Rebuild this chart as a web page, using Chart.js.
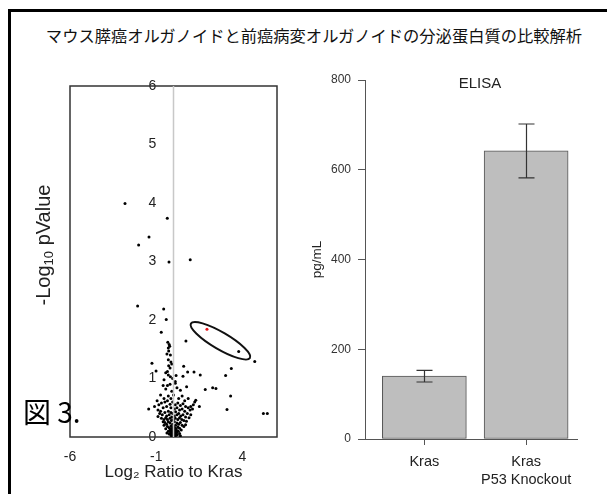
<!DOCTYPE html>
<html>
<head>
<meta charset="utf-8">
<script src="https://cdn.jsdelivr.net/npm/chart.js@4/dist/chart.umd.min.js"></script>
<style>
  html, body { margin: 0; padding: 0; overflow: hidden; }
  body { width: 607px; height: 494px; background: #fff; position: relative;
         font-family: "Liberation Sans", Arial, sans-serif; color: #222; }
  #frameTop { position: absolute; left: 8px; top: 9px; width: 599px; height: 3px; background: #000; }
  #frameLeft { position: absolute; left: 8px; top: 9px; width: 3px; height: 485px; background: #000; }
  #title { position: absolute; left: 314px; top: 23px; transform: translateX(-50%);
           font: 16.3px "Noto Sans CJK JP", sans-serif; color: #111; white-space: nowrap; }
  canvas { position: absolute; }
  #volcano { left: 20px; top: 60px; }
  #elisa { left: 290px; top: 60px; }
  #ylab { position: absolute; left: 44px; top: 245px; transform: translate(-50%, -50%) rotate(-90deg);
          font-size: 20px; white-space: nowrap; color: #222; }
  #ylab sub { font-size: 13px; vertical-align: -3px; }
  #elisaTitle { position: absolute; left: 480px; top: 82px; transform: translate(-50%, -50%);
                font-size: 15px; color: #222; }
  #fig { position: absolute; left: 23px; top: 411px; transform: translateY(-50%);
         font: 28px "Noto Sans CJK JP", sans-serif; color: #000; white-space: nowrap; z-index: 2; }
</style>
</head>
<body>
<div id="frameTop"></div>
<div id="frameLeft"></div>
<div id="title">マウス膵癌オルガノイドと前癌病変オルガノイドの分泌蛋白質の比較解析</div>
<canvas id="volcano" width="280" height="430"></canvas>
<canvas id="elisa" width="310" height="434"></canvas>
<div id="ylab">-Log<sub>10</sub> pValue</div>
<div id="elisaTitle">ELISA</div>
<div id="fig">図 3.</div>
<script>
// ---- volcano plot: log2 ratio vs -log10 p ----
const volcanoXTicks = [-6, -1, 4];
const volcanoYTicks = [0, 1, 2, 3, 4, 5, 6];
const proteins = [
  [-2.81,3.99],[-0.36,3.74],[-1.42,3.42],[-2.02,3.28],[-0.26,2.99],[0.97,3.03],
  [-2.08,2.24],[-0.57,2.19],[-0.42,2.01],[-0.71,1.79],
  [3.78,1.46],[4.71,1.29],[0.72,1.64],[3.35,1.17],[3.02,1.05],[1.55,1.06],[1.19,1.11],
  [0.82,1.11],[0.55,1.04],[0.59,1.21],[0.76,0.86],[1.84,0.81],[2.27,0.84],[2.46,0.83],
  [3.31,0.70],[3.10,0.47],[5.21,0.40],[5.44,0.40],[1.50,0.52],[-1.25,1.26],[-1.01,1.13],
  [-1.44,0.48],[1.29,0.63],[1.23,0.60],[1.15,0.55],[1.00,0.52],[0.96,0.46],[1.00,0.38],
  [-0.33,1.62],[-0.25,1.58],[-0.30,1.52],[-0.28,1.47],[-0.18,1.40],[-0.30,1.32],[-0.15,1.28],
  [-0.10,1.25],[-0.28,1.22],[-0.20,1.18],[-0.35,1.12],[-0.30,1.06],[-0.18,1.03],[-0.05,1.00],
  [-0.55,0.98],[-0.45,1.10],[-0.38,1.42],[-0.22,1.55],[0.10,0.95],[0.15,1.05],
  [-0.60,0.88],[-0.45,0.82],[-0.20,0.90],[-0.10,0.78],[0.10,0.92],[0.20,0.84],[0.40,0.80],
  [0.50,0.70],[-0.75,0.72],[-0.30,0.70],[0.00,0.72],[0.30,0.66],[0.65,0.62],[-0.55,0.66],
  [-0.95,0.62],[0.85,0.66],[-0.35,0.88],[-0.15,0.66],
  [-0.85,0.55],[-0.70,0.58],[-0.50,0.60],[-0.35,0.62],[-0.20,0.56],[-0.05,0.60],[0.10,0.55],
  [0.25,0.58],[0.40,0.54],[0.55,0.57],[0.70,0.52],[0.85,0.50],[-1.10,0.52],[-0.60,0.50],
  [-0.40,0.52],[-0.15,0.50],[0.05,0.48],[0.20,0.50],[0.35,0.46],[0.50,0.48],[0.65,0.44],
  [-0.90,0.46],[-0.75,0.44],[1.10,0.48],
  [-0.80,0.40],[-0.65,0.38],[-0.50,0.42],[-0.40,0.36],[-0.30,0.44],[-0.25,0.38],[-0.15,0.42],
  [-0.05,0.40],[0.05,0.36],[0.12,0.43],[0.20,0.38],[0.30,0.40],[0.42,0.36],[0.55,0.38],
  [0.70,0.34],[0.80,0.40],[-0.70,0.32],[-0.55,0.30],[-0.45,0.33],[-0.35,0.30],[-0.20,0.32],
  [-0.10,0.34],[0.00,0.30],[0.10,0.32],[0.25,0.30],[0.35,0.33],[0.48,0.30],[0.60,0.28],
  [0.75,0.27],[-0.60,0.26],[-0.90,0.35],[0.90,0.33],
  [-0.50,0.25],[-0.40,0.22],[-0.30,0.26],[-0.20,0.24],[-0.12,0.28],[-0.05,0.22],[0.05,0.26],
  [0.12,0.20],[0.20,0.24],[0.30,0.22],[0.40,0.25],[0.50,0.20],[-0.35,0.18],[-0.25,0.16],
  [-0.15,0.19],[-0.08,0.15],[0.00,0.18],[0.08,0.16],[0.16,0.14],[0.25,0.17],[0.35,0.15],
  [0.60,0.18],[-0.45,0.14],[0.45,0.12],[-0.55,0.20],[0.70,0.21],
  [-0.30,0.10],[-0.20,0.12],[-0.12,0.08],[-0.05,0.11],[0.02,0.07],[0.10,0.10],[0.18,0.08],
  [0.28,0.10],[-0.25,0.05],[-0.15,0.04],[-0.06,0.05],[0.00,0.03],[0.06,0.04],[0.14,0.05],
  [0.22,0.04],[-0.10,0.01],[0.03,0.00],[0.10,0.02],[-0.03,0.13],[0.35,0.06],[-0.38,0.07],
  [0.40,0.02],[-0.18,0.14],[-0.10,0.13],[0.00,0.14],[0.08,0.13],[0.15,0.12],[-0.22,0.10],
  [-0.14,0.09],[-0.06,0.10],[0.04,0.09],[0.12,0.08],[0.20,0.10],[-0.17,0.06],[-0.09,0.07],
  [-0.02,0.06],[0.07,0.06],[0.16,0.05],[-0.12,0.03],[-0.04,0.03],[0.04,0.02],[0.12,0.03],
  [-0.07,0.00],[0.00,0.01],[0.08,0.00]
];
const highlighted = [[1.94, 1.84]];
// major-axis tips of the outline drawn round the highlighted group
const groupOutline = [[1.01, 1.94], [4.43, 1.35]];

const toXY = ([x, y]) => ({ x, y });

const frameAndOutline = {
  id: 'frameAndOutline',
  beforeDatasetsDraw(chart) {
    const { ctx, chartArea: a } = chart;
    ctx.save();
    ctx.strokeStyle = '#333';
    ctx.lineWidth = 1.5;
    ctx.strokeRect(a.left, a.top, a.right - a.left, a.bottom - a.top);
    ctx.restore();
  },
  afterDatasetsDraw(chart) {
    const { ctx, scales: { x, y } } = chart;
    const p = groupOutline.map(([vx, vy]) => [x.getPixelForValue(vx), y.getPixelForValue(vy)]);
    const cx = (p[0][0] + p[1][0]) / 2, cy = (p[0][1] + p[1][1]) / 2;
    const a = Math.hypot(p[1][0] - p[0][0], p[1][1] - p[0][1]) / 2;
    const ang = Math.atan2(p[1][1] - p[0][1], p[1][0] - p[0][0]);
    ctx.save();
    ctx.strokeStyle = '#111';
    ctx.lineWidth = 2;
    ctx.beginPath();
    ctx.ellipse(cx, cy, a, 8.5, ang, 0, Math.PI * 2);
    ctx.stroke();
    ctx.restore();
  }
};

new Chart(document.getElementById('volcano'), {
  type: 'scatter',
  data: {
    datasets: [
      { data: [{ x: 0, y: 0 }, { x: 0, y: 6 }], showLine: true, borderColor: '#c8c8c8',
        borderWidth: 1.5, pointRadius: 0 },
      { data: proteins.map(toXY), backgroundColor: '#000', borderWidth: 0, pointRadius: 1.5 },
      { data: highlighted.map(toXY), backgroundColor: '#e8141c', borderWidth: 0, pointRadius: 1.5 }
    ]
  },
  options: {
    responsive: false, animation: false, events: [],
    layout: { padding: { left: 50, right: 23, top: 26, bottom: 0 } },
    plugins: { legend: { display: false }, tooltip: { enabled: false } },
    scales: {
      x: {
        type: 'linear', min: -6, max: 6,
        afterBuildTicks: s => { s.ticks = volcanoXTicks.map(v => ({ value: v })); },
        afterFit: s => { s.height = 53; },
        grid: { display: false, drawTicks: false },
        border: { display: false },
        ticks: { padding: 12, color: '#222', font: { size: 14, family: 'Liberation Sans' } },
        title: { display: true, text: 'Log₂ Ratio to Kras', color: '#222',
                 font: { size: 17, family: 'Liberation Sans' }, padding: { top: 0, bottom: 7 } }
      },
      y: {
        type: 'linear', min: 0, max: 6, position: { x: -1 },
        afterBuildTicks: s => { s.ticks = volcanoYTicks.map(v => ({ value: v })); },
        grid: { display: false, drawTicks: false },
        border: { display: false },
        ticks: { padding: 0, color: '#222', font: { size: 14, family: 'Liberation Sans' } }
      }
    }
  },
  plugins: [frameAndOutline]
});

// ---- ELISA bar chart ----
const groups = ['Kras', ['Kras', 'P53 Knockout']];
const meanPgMl = [140, 642];
const sdPgMl = [13, 60];
const elisaYTicks = [0, 200, 400, 600, 800];
// bar slots laid out like a barplot with width 1 and space 0.2
const barSlots = groups.map((_, i) => 0.7 + 1.2 * i);

const errorBars = {
  id: 'errorBars',
  afterDatasetsDraw(chart) {
    const { ctx, scales: { x, y } } = chart;
    ctx.save();
    ctx.strokeStyle = '#333';
    ctx.lineWidth = 1.2;
    meanPgMl.forEach((m, i) => {
      const px = Math.round(x.getPixelForValue(barSlots[i])) + 0.5;
      const hi = y.getPixelForValue(m + sdPgMl[i]);
      const lo = y.getPixelForValue(m - sdPgMl[i]);
      ctx.beginPath();
      ctx.moveTo(px, hi); ctx.lineTo(px, lo);
      ctx.moveTo(px - 8, hi); ctx.lineTo(px + 8, hi);
      ctx.moveTo(px - 8, lo); ctx.lineTo(px + 8, lo);
      ctx.stroke();
    });
    ctx.restore();
  }
};

new Chart(document.getElementById('elisa'), {
  type: 'bar',
  data: {
    datasets: [{
      data: meanPgMl.map((v, i) => ({ x: barSlots[i], y: v })),
      backgroundColor: '#bebebe', borderColor: '#555', borderWidth: 1,
      borderSkipped: false, barThickness: 84
    }]
  },
  options: {
    responsive: false, animation: false, events: [],
    layout: { padding: { left: 0, right: 23, top: 20, bottom: 0 } },
    plugins: { legend: { display: false }, tooltip: { enabled: false } },
    scales: {
      x: {
        type: 'linear', min: 0, max: 2.5, offset: false,
        afterBuildTicks: s => { s.ticks = barSlots.map(v => ({ value: v })); },
        afterFit: s => { s.height = 55; },
        grid: { drawOnChartArea: false, tickLength: 6, color: '#555', offset: false },
        border: { color: '#555', width: 1 },
        ticks: { padding: 8, color: '#222', font: { size: 14.5, family: 'Liberation Sans', lineHeight: 1.25 },
                 callback: (v, i) => groups[i] }
      },
      y: {
        min: 0, max: 800,
        afterBuildTicks: s => { s.ticks = elisaYTicks.map(v => ({ value: v })); },
        afterFit: s => { s.width = 75; },
        grid: { drawOnChartArea: false, tickLength: 7, color: '#555' },
        border: { color: '#555', width: 1 },
        ticks: { padding: 7, color: '#333', font: { size: 12, family: 'Liberation Sans' } },
        title: { display: true, text: 'pg/mL', color: '#222', font: { size: 13.5, family: 'Liberation Sans' },
                 padding: { top: 19, bottom: 0 } }
      }
    }
  },
  plugins: [errorBars]
});
</script>
</body>
</html>
